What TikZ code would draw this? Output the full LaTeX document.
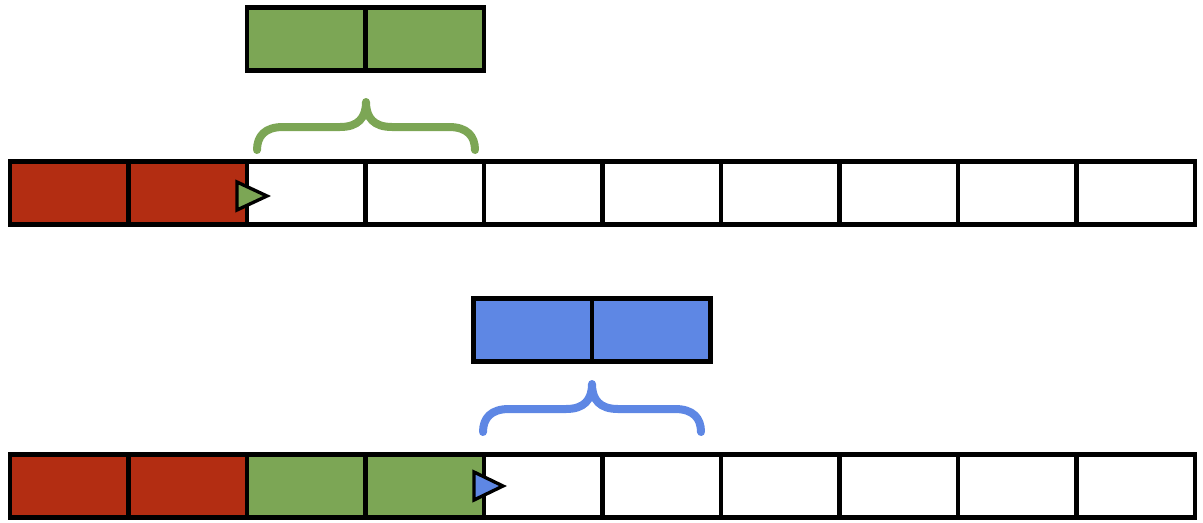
\documentclass[tikz,border=0pt]{standalone}
\usepackage{tikz}
\usepackage{xcolor}

\definecolor{blockred}{HTML}{B32D12}
\definecolor{blockgreen}{HTML}{7CA655}
\definecolor{blockblue}{HTML}{5E87E4}

\tikzset{
  cell/.style={draw=black, line width=0.14cm, minimum width=3.555cm, minimum height=1.89cm, inner sep=0pt, fill=white},
  bracket/.style={line width=0.24cm, line cap=round, line join=round},
  marker/.style={draw=black, line width=0.1cm, line join=miter}
}

\begin{document}
\begin{tikzpicture}[x=0.03cm, y=-0.03cm]

\useasboundingbox (0,0) rectangle (1203,522);

% Upper buffer
\foreach \i in {0,...,9}
  \node[cell] (top\i) at ({69.25+118.5*\i},193) {};
\node[cell, fill=blockred] at (top0) {};
\node[cell, fill=blockred] at (top1) {};

% Incoming green chunk
\node[cell, fill=blockgreen] (ga) at (306.25,39) {};
\node[cell, fill=blockgreen] (gb) at (424.75,39) {};

\draw[bracket, blockgreen] (257,150) .. controls (257,136) and (265,127) .. (283,127) -- (340,127)
  .. controls (358,127) and (366,118) .. (366,102) .. controls (366,118) and (374,127) .. (392,127)
  -- (449,127) .. controls (467,127) and (475,136) .. (475,150);

% Write position
\draw[marker, fill=blockgreen] (237,182) -- (267,196) -- (237,210) -- cycle;

% Lower buffer
\foreach \i in {0,...,9}
  \node[cell] (bot\i) at ({69.25+118.5*\i},486) {};
\node[cell, fill=blockred] at (bot0) {};
\node[cell, fill=blockred] at (bot1) {};
\node[cell, fill=blockgreen] at (bot2) {};
\node[cell, fill=blockgreen] at (bot3) {};

% Incoming blue chunk
\node[cell, fill=blockblue] (ba) at (532.75,330) {};
\node[cell, fill=blockblue] (bb) at (651.25,330) {};

\draw[bracket, blockblue] (483,432) .. controls (483,418) and (491,409) .. (509,409) -- (566,409)
  .. controls (584,409) and (592,400) .. (592,384) .. controls (592,400) and (600,409) .. (618,409)
  -- (675,409) .. controls (693,409) and (701,418) .. (701,432);

% Write position
\draw[marker, fill=blockblue] (474,472) -- (503,486) -- (474,500) -- cycle;

\end{tikzpicture}
\end{document}
